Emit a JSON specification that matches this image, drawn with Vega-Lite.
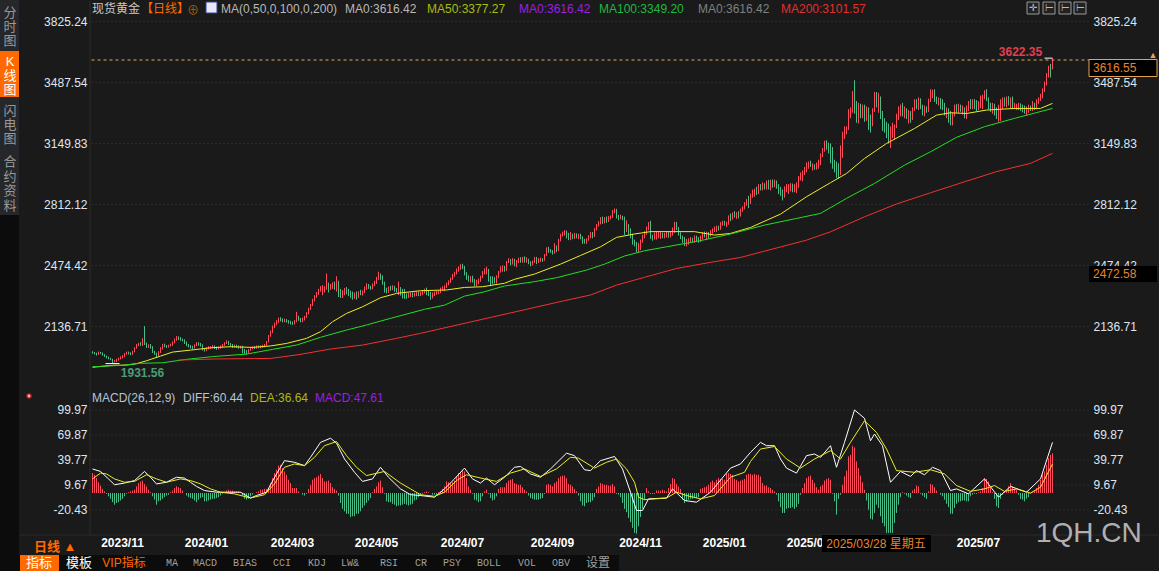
{"$schema":"https://vega.github.io/schema/vega-lite/v6.json","width":1159,"height":571,"padding":0,"autosize":{"type":"fit","contains":"padding"},"background":"#1a1a1a","config":{"view":{"stroke":null},"axis":{"disable":true},"text":{"font":"Liberation Sans, Noto Sans CJK SC","fontSize":12}},
"data":{"values":[{"z":1}]},
"datasets":{"k":[
{"i":0,"o":1998,"c":1992,"h":2000,"l":1986,"m":24},{"i":1,"o":1992,"c":1988,"h":1996,"l":1982,"m":22},{"i":2,"o":1988,"c":1984,"h":1992,"l":1976,"m":18},{"i":3,"o":1984,"c":1994,"h":1998,"l":1980,"m":13},{"i":4,"o":1994,"c":1989,"h":1996,"l":1984,"m":9},{"i":5,"o":1989,"c":1980,"h":1993,"l":1975,"m":5},{"i":6,"o":1980,"c":1972,"h":1984,"l":1968,"m":2},{"i":7,"o":1972,"c":1966,"h":1976,"l":1960,"m":-1},{"i":8,"o":1966,"c":1960,"h":1970,"l":1955,"m":-4},{"i":9,"o":1960,"c":1955,"h":1964,"l":1950,"m":-7},{"i":10,"o":1955,"c":1942,"h":1958,"l":1932,"m":-11},{"i":11,"o":1942,"c":1950,"h":1952,"l":1938,"m":-14},{"i":12,"o":1950,"c":1951,"h":1958,"l":1940,"m":-12},{"i":13,"o":1951,"c":1960,"h":1964,"l":1948,"m":-11},{"i":14,"o":1960,"c":1966,"h":1972,"l":1955,"m":-9},{"i":15,"o":1966,"c":1973,"h":1978,"l":1960,"m":-7},{"i":16,"o":1973,"c":1985,"h":1990,"l":1968,"m":-4},{"i":17,"o":1985,"c":1995,"h":1998,"l":1980,"m":-1},{"i":18,"o":1995,"c":1988,"h":1998,"l":1982,"m":1},{"i":19,"o":1988,"c":1984,"h":1994,"l":1978,"m":2},{"i":20,"o":1984,"c":1997,"h":2002,"l":1980,"m":3},{"i":21,"o":1997,"c":2018,"h":2022,"l":1994,"m":4},{"i":22,"o":2018,"c":2034,"h":2040,"l":2014,"m":8},{"i":23,"o":2034,"c":2040,"h":2046,"l":2028,"m":12},{"i":24,"o":2040,"c":2038,"h":2050,"l":2030,"m":14},{"i":25,"o":2038,"c":2062,"h":2072,"l":2030,"m":15},{"i":26,"o":2062,"c":2040,"h":2139,"l":2034,"m":11},{"i":27,"o":2040,"c":2025,"h":2048,"l":2018,"m":8},{"i":28,"o":2025,"c":2032,"h":2038,"l":2018,"m":4},{"i":29,"o":2032,"c":2021,"h":2040,"l":2014,"m":1},{"i":30,"o":2021,"c":1997,"h":2028,"l":1990,"m":-4},{"i":31,"o":1997,"c":1985,"h":2002,"l":1980,"m":-8},{"i":32,"o":1985,"c":1973,"h":1992,"l":1966,"m":-14},{"i":33,"o":1973,"c":1995,"h":2000,"l":1970,"m":-10},{"i":34,"o":1995,"c":2016,"h":2022,"l":1990,"m":-9},{"i":35,"o":2016,"c":2034,"h":2040,"l":2010,"m":-7},{"i":36,"o":2034,"c":2028,"h":2042,"l":2022,"m":-5},{"i":37,"o":2028,"c":2025,"h":2034,"l":2018,"m":-3},{"i":38,"o":2025,"c":2030,"h":2036,"l":2020,"m":-2},{"i":39,"o":2030,"c":2034,"h":2042,"l":2026,"m":1},{"i":40,"o":2034,"c":2048,"h":2054,"l":2030,"m":3},{"i":41,"o":2048,"c":2062,"h":2070,"l":2044,"m":6},{"i":42,"o":2062,"c":2077,"h":2084,"l":2058,"m":8},{"i":43,"o":2077,"c":2072,"h":2082,"l":2062,"m":7},{"i":44,"o":2072,"c":2066,"h":2078,"l":2058,"m":6},{"i":45,"o":2066,"c":2062,"h":2070,"l":2054,"m":3},{"i":46,"o":2062,"c":2048,"h":2066,"l":2040,"m":0},{"i":47,"o":2048,"c":2034,"h":2054,"l":2028,"m":-3},{"i":48,"o":2034,"c":2028,"h":2040,"l":2020,"m":-5},{"i":49,"o":2028,"c":2025,"h":2034,"l":2015,"m":-6},{"i":50,"o":2025,"c":2020,"h":2030,"l":2012,"m":-7},{"i":51,"o":2020,"c":2032,"h":2038,"l":2016,"m":-9},{"i":52,"o":2032,"c":2043,"h":2050,"l":2028,"m":-11},{"i":53,"o":2043,"c":2038,"h":2050,"l":2030,"m":-8},{"i":54,"o":2038,"c":2034,"h":2046,"l":2026,"m":-6},{"i":55,"o":2034,"c":2010,"h":2038,"l":2004,"m":-5},{"i":56,"o":2010,"c":2005,"h":2018,"l":1998,"m":-10},{"i":57,"o":2005,"c":2016,"h":2022,"l":2000,"m":-10},{"i":58,"o":2016,"c":2020,"h":2028,"l":2010,"m":-9},{"i":59,"o":2020,"c":2021,"h":2028,"l":2012,"m":-8},{"i":60,"o":2021,"c":2028,"h":2034,"l":2015,"m":-7},{"i":61,"o":2028,"c":2020,"h":2032,"l":2012,"m":-7},{"i":62,"o":2020,"c":2016,"h":2026,"l":2008,"m":-6},{"i":63,"o":2016,"c":2020,"h":2026,"l":2010,"m":-5},{"i":64,"o":2020,"c":2025,"h":2032,"l":2014,"m":-3},{"i":65,"o":2025,"c":2034,"h":2040,"l":2020,"m":-1},{"i":66,"o":2034,"c":2044,"h":2050,"l":2030,"m":1},{"i":67,"o":2044,"c":2053,"h":2060,"l":2040,"m":3},{"i":68,"o":2053,"c":2040,"h":2058,"l":2034,"m":4},{"i":69,"o":2040,"c":2034,"h":2046,"l":2026,"m":3},{"i":70,"o":2034,"c":2025,"h":2040,"l":2018,"m":3},{"i":71,"o":2025,"c":2030,"h":2036,"l":2020,"m":2},{"i":72,"o":2030,"c":2025,"h":2036,"l":2018,"m":2},{"i":73,"o":2025,"c":2022,"h":2032,"l":2014,"m":2},{"i":74,"o":2022,"c":2025,"h":2030,"l":2014,"m":1},{"i":75,"o":2025,"c":2006,"h":2030,"l":1988,"m":-3},{"i":76,"o":2006,"c":2000,"h":2012,"l":1985,"m":-7},{"i":77,"o":2000,"c":1997,"h":2006,"l":1982,"m":-8},{"i":78,"o":1997,"c":2008,"h":2012,"l":1990,"m":-7},{"i":79,"o":2008,"c":2016,"h":2022,"l":2002,"m":-4},{"i":80,"o":2016,"c":2021,"h":2028,"l":2010,"m":-2},{"i":81,"o":2021,"c":2018,"h":2028,"l":2012,"m":0},{"i":82,"o":2018,"c":2025,"h":2032,"l":2014,"m":1},{"i":83,"o":2025,"c":2022,"h":2032,"l":2016,"m":2},{"i":84,"o":2022,"c":2025,"h":2032,"l":2016,"m":4},{"i":85,"o":2025,"c":2028,"h":2036,"l":2018,"m":4},{"i":86,"o":2028,"c":2035,"h":2040,"l":2022,"m":5},{"i":87,"o":2035,"c":2053,"h":2056,"l":2030,"m":5},{"i":88,"o":2053,"c":2085,"h":2090,"l":2048,"m":6},{"i":89,"o":2085,"c":2108,"h":2114,"l":2080,"m":12},{"i":90,"o":2108,"c":2136,"h":2142,"l":2100,"m":18},{"i":91,"o":2136,"c":2150,"h":2158,"l":2128,"m":24},{"i":92,"o":2150,"c":2163,"h":2172,"l":2144,"m":28},{"i":93,"o":2163,"c":2180,"h":2186,"l":2155,"m":33},{"i":94,"o":2180,"c":2176,"h":2188,"l":2165,"m":34},{"i":95,"o":2176,"c":2169,"h":2182,"l":2160,"m":30},{"i":96,"o":2169,"c":2172,"h":2180,"l":2160,"m":26},{"i":97,"o":2172,"c":2165,"h":2178,"l":2158,"m":22},{"i":98,"o":2165,"c":2162,"h":2172,"l":2152,"m":16},{"i":99,"o":2162,"c":2158,"h":2168,"l":2148,"m":12},{"i":100,"o":2158,"c":2154,"h":2164,"l":2146,"m":6},{"i":101,"o":2154,"c":2165,"h":2172,"l":2148,"m":6},{"i":102,"o":2165,"c":2191,"h":2218,"l":2160,"m":6},{"i":103,"o":2191,"c":2178,"h":2196,"l":2168,"m":2},{"i":104,"o":2178,"c":2169,"h":2184,"l":2160,"m":0},{"i":105,"o":2169,"c":2176,"h":2186,"l":2160,"m":-2},{"i":106,"o":2176,"c":2190,"h":2196,"l":2170,"m":-3},{"i":107,"o":2190,"c":2209,"h":2216,"l":2184,"m":-1},{"i":108,"o":2209,"c":2234,"h":2240,"l":2204,"m":5},{"i":109,"o":2234,"c":2256,"h":2262,"l":2228,"m":10},{"i":110,"o":2256,"c":2283,"h":2290,"l":2250,"m":16},{"i":111,"o":2283,"c":2302,"h":2310,"l":2276,"m":18},{"i":112,"o":2302,"c":2320,"h":2328,"l":2296,"m":19},{"i":113,"o":2320,"c":2338,"h":2345,"l":2312,"m":21},{"i":114,"o":2338,"c":2348,"h":2360,"l":2330,"m":23},{"i":115,"o":2348,"c":2357,"h":2366,"l":2310,"m":18},{"i":116,"o":2340,"c":2350,"h":2360,"l":2325,"m":14},{"i":117,"o":2350,"c":2361,"h":2430,"l":2340,"m":14},{"i":118,"o":2372,"c":2345,"h":2380,"l":2325,"m":15},{"i":119,"o":2345,"c":2366,"h":2372,"l":2340,"m":12},{"i":120,"o":2352,"c":2375,"h":2382,"l":2345,"m":7},{"i":121,"o":2375,"c":2360,"h":2385,"l":2340,"m":5},{"i":122,"o":2360,"c":2385,"h":2415,"l":2330,"m":3},{"i":123,"o":2385,"c":2335,"h":2390,"l":2300,"m":-3},{"i":124,"o":2335,"c":2320,"h":2345,"l":2295,"m":-12},{"i":125,"o":2310,"c":2320,"h":2338,"l":2295,"m":-19},{"i":126,"o":2320,"c":2342,"h":2350,"l":2310,"m":-22},{"i":127,"o":2342,"c":2335,"h":2355,"l":2315,"m":-25},{"i":128,"o":2335,"c":2325,"h":2345,"l":2305,"m":-25},{"i":129,"o":2325,"c":2320,"h":2335,"l":2295,"m":-29},{"i":130,"o":2320,"c":2302,"h":2330,"l":2285,"m":-28},{"i":131,"o":2302,"c":2318,"h":2325,"l":2290,"m":-28},{"i":132,"o":2318,"c":2305,"h":2330,"l":2285,"m":-25},{"i":133,"o":2305,"c":2325,"h":2332,"l":2295,"m":-25},{"i":134,"o":2325,"c":2320,"h":2340,"l":2310,"m":-22},{"i":135,"o":2320,"c":2329,"h":2336,"l":2308,"m":-18},{"i":136,"o":2329,"c":2350,"h":2358,"l":2322,"m":-15},{"i":137,"o":2350,"c":2366,"h":2376,"l":2340,"m":-12},{"i":138,"o":2366,"c":2355,"h":2372,"l":2345,"m":-9},{"i":139,"o":2355,"c":2348,"h":2362,"l":2340,"m":-6},{"i":140,"o":2348,"c":2368,"h":2375,"l":2342,"m":1},{"i":141,"o":2368,"c":2379,"h":2390,"l":2360,"m":5},{"i":142,"o":2379,"c":2403,"h":2412,"l":2372,"m":8},{"i":143,"o":2403,"c":2421,"h":2440,"l":2395,"m":13},{"i":144,"o":2421,"c":2405,"h":2430,"l":2395,"m":15},{"i":145,"o":2405,"c":2375,"h":2420,"l":2368,"m":7},{"i":146,"o":2375,"c":2345,"h":2385,"l":2325,"m":-1},{"i":147,"o":2345,"c":2329,"h":2352,"l":2320,"m":-10},{"i":148,"o":2329,"c":2350,"h":2358,"l":2322,"m":-11},{"i":149,"o":2350,"c":2348,"h":2362,"l":2335,"m":-11},{"i":150,"o":2348,"c":2357,"h":2365,"l":2338,"m":-13},{"i":151,"o":2357,"c":2345,"h":2362,"l":2330,"m":-14},{"i":152,"o":2345,"c":2339,"h":2350,"l":2325,"m":-16},{"i":153,"o":2339,"c":2350,"h":2385,"l":2310,"m":-15},
{"i":154,"o":2350,"c":2339,"h":2355,"l":2308,"m":-15},{"i":155,"o":2339,"c":2325,"h":2345,"l":2292,"m":-14},{"i":156,"o":2325,"c":2311,"h":2345,"l":2290,"m":-13},{"i":157,"o":2311,"c":2305,"h":2320,"l":2290,"m":-14},{"i":158,"o":2305,"c":2312,"h":2322,"l":2295,"m":-15},{"i":159,"o":2312,"c":2318,"h":2326,"l":2300,"m":-14},{"i":160,"o":2318,"c":2312,"h":2326,"l":2298,"m":-13},{"i":161,"o":2312,"c":2316,"h":2325,"l":2302,"m":-9},{"i":162,"o":2316,"c":2322,"h":2330,"l":2305,"m":-8},{"i":163,"o":2322,"c":2318,"h":2330,"l":2305,"m":-5},{"i":164,"o":2318,"c":2320,"h":2330,"l":2305,"m":-3},{"i":165,"o":2320,"c":2330,"h":2338,"l":2310,"m":-1},{"i":166,"o":2330,"c":2339,"h":2346,"l":2320,"m":1},{"i":167,"o":2339,"c":2330,"h":2352,"l":2310,"m":2},{"i":168,"o":2330,"c":2320,"h":2338,"l":2305,"m":1},{"i":169,"o":2320,"c":2311,"h":2328,"l":2285,"m":0},{"i":170,"o":2311,"c":2318,"h":2325,"l":2292,"m":-2},{"i":171,"o":2318,"c":2322,"h":2330,"l":2305,"m":-2},{"i":172,"o":2322,"c":2328,"h":2335,"l":2312,"m":-3},{"i":173,"o":2322,"c":2329,"h":2336,"l":2315,"m":1},{"i":174,"o":2329,"c":2345,"h":2352,"l":2322,"m":2},{"i":175,"o":2345,"c":2350,"h":2360,"l":2335,"m":5},{"i":176,"o":2340,"c":2357,"h":2365,"l":2332,"m":8},{"i":177,"o":2357,"c":2372,"h":2380,"l":2350,"m":14},{"i":178,"o":2372,"c":2385,"h":2392,"l":2365,"m":13},{"i":179,"o":2385,"c":2400,"h":2408,"l":2378,"m":12},{"i":180,"o":2400,"c":2420,"h":2428,"l":2395,"m":13},{"i":181,"o":2420,"c":2432,"h":2440,"l":2412,"m":15},{"i":182,"o":2432,"c":2448,"h":2458,"l":2425,"m":20},{"i":183,"o":2448,"c":2458,"h":2470,"l":2440,"m":24},{"i":184,"o":2458,"c":2476,"h":2482,"l":2450,"m":25},{"i":185,"o":2476,"c":2464,"h":2484,"l":2455,"m":27},{"i":186,"o":2464,"c":2430,"h":2472,"l":2420,"m":26},{"i":187,"o":2430,"c":2412,"h":2438,"l":2395,"m":18},{"i":188,"o":2412,"c":2400,"h":2420,"l":2385,"m":8},{"i":189,"o":2390,"c":2405,"h":2415,"l":2380,"m":4},{"i":190,"o":2405,"c":2392,"h":2418,"l":2380,"m":-1},{"i":191,"o":2392,"c":2385,"h":2400,"l":2360,"m":-8},{"i":192,"o":2375,"c":2388,"h":2395,"l":2360,"m":-9},{"i":193,"o":2378,"c":2394,"h":2402,"l":2370,"m":-11},{"i":194,"o":2394,"c":2410,"h":2418,"l":2385,"m":-10},{"i":195,"o":2410,"c":2435,"h":2444,"l":2405,"m":-4},{"i":196,"o":2435,"c":2449,"h":2458,"l":2425,"m":2},{"i":197,"o":2430,"c":2449,"h":2468,"l":2425,"m":4},{"i":198,"o":2449,"c":2403,"h":2455,"l":2385,"m":-1},{"i":199,"o":2403,"c":2400,"h":2415,"l":2360,"m":-6},{"i":200,"o":2400,"c":2395,"h":2415,"l":2370,"m":-9},{"i":201,"o":2395,"c":2394,"h":2410,"l":2375,"m":-8},{"i":202,"o":2385,"c":2410,"h":2420,"l":2375,"m":-4},{"i":203,"o":2410,"c":2440,"h":2445,"l":2405,"m":5},{"i":204,"o":2440,"c":2458,"h":2470,"l":2435,"m":7},{"i":205,"o":2445,"c":2465,"h":2475,"l":2440,"m":7},{"i":206,"o":2465,"c":2460,"h":2472,"l":2440,"m":7},{"i":207,"o":2450,"c":2495,"h":2500,"l":2445,"m":12},{"i":208,"o":2495,"c":2505,"h":2515,"l":2488,"m":15},{"i":209,"o":2505,"c":2488,"h":2510,"l":2475,"m":16},{"i":210,"o":2488,"c":2505,"h":2515,"l":2480,"m":17},{"i":211,"o":2505,"c":2480,"h":2512,"l":2470,"m":12},{"i":212,"o":2480,"c":2495,"h":2505,"l":2465,"m":11},{"i":213,"o":2495,"c":2510,"h":2518,"l":2488,"m":10},{"i":214,"o":2510,"c":2498,"h":2520,"l":2490,"m":10},{"i":215,"o":2498,"c":2514,"h":2522,"l":2490,"m":7},{"i":216,"o":2514,"c":2500,"h":2525,"l":2490,"m":4},{"i":217,"o":2500,"c":2505,"h":2520,"l":2490,"m":2},{"i":218,"o":2505,"c":2490,"h":2512,"l":2482,"m":-3},{"i":219,"o":2490,"c":2484,"h":2498,"l":2470,"m":-6},{"i":220,"o":2484,"c":2495,"h":2502,"l":2475,"m":-7},{"i":221,"o":2495,"c":2515,"h":2522,"l":2488,"m":-8},{"i":222,"o":2515,"c":2495,"h":2522,"l":2482,"m":-8},{"i":223,"o":2495,"c":2505,"h":2515,"l":2488,"m":-8},{"i":224,"o":2505,"c":2510,"h":2518,"l":2495,"m":-7},{"i":225,"o":2510,"c":2505,"h":2515,"l":2495,"m":-6},{"i":226,"o":2505,"c":2532,"h":2538,"l":2500,"m":-1},{"i":227,"o":2532,"c":2569,"h":2575,"l":2528,"m":10},{"i":228,"o":2569,"c":2560,"h":2578,"l":2545,"m":11},{"i":229,"o":2560,"c":2552,"h":2566,"l":2545,"m":10},{"i":230,"o":2552,"c":2545,"h":2560,"l":2535,"m":8},{"i":231,"o":2545,"c":2578,"h":2598,"l":2540,"m":12},{"i":232,"o":2578,"c":2560,"h":2585,"l":2548,"m":14},{"i":233,"o":2560,"c":2615,"h":2622,"l":2555,"m":18},{"i":234,"o":2615,"c":2643,"h":2650,"l":2608,"m":20},{"i":235,"o":2643,"c":2655,"h":2662,"l":2635,"m":21},{"i":236,"o":2655,"c":2661,"h":2670,"l":2640,"m":21},{"i":237,"o":2661,"c":2648,"h":2668,"l":2625,"m":18},{"i":238,"o":2648,"c":2625,"h":2655,"l":2615,"m":11},{"i":239,"o":2625,"c":2643,"h":2660,"l":2615,"m":10},{"i":240,"o":2643,"c":2630,"h":2650,"l":2620,"m":8},{"i":241,"o":2630,"c":2648,"h":2655,"l":2622,"m":5},{"i":242,"o":2648,"c":2630,"h":2652,"l":2625,"m":2},{"i":243,"o":2630,"c":2644,"h":2650,"l":2620,"m":-3},{"i":244,"o":2644,"c":2630,"h":2650,"l":2620,"m":-10},{"i":245,"o":2630,"c":2615,"h":2636,"l":2595,"m":-15},{"i":246,"o":2615,"c":2605,"h":2622,"l":2595,"m":-16},{"i":247,"o":2605,"c":2618,"h":2625,"l":2595,"m":-12},{"i":248,"o":2618,"c":2635,"h":2642,"l":2612,"m":-11},{"i":249,"o":2635,"c":2652,"h":2660,"l":2625,"m":-11},{"i":250,"o":2652,"c":2640,"h":2660,"l":2625,"m":-9},{"i":251,"o":2640,"c":2675,"h":2682,"l":2632,"m":-5},{"i":252,"o":2675,"c":2698,"h":2704,"l":2668,"m":5},{"i":253,"o":2698,"c":2710,"h":2720,"l":2690,"m":8},{"i":254,"o":2710,"c":2735,"h":2742,"l":2702,"m":12},{"i":255,"o":2735,"c":2712,"h":2745,"l":2705,"m":11},{"i":256,"o":2712,"c":2735,"h":2742,"l":2708,"m":10},{"i":257,"o":2735,"c":2722,"h":2745,"l":2712,"m":10},{"i":258,"o":2722,"c":2740,"h":2748,"l":2715,"m":9},{"i":259,"o":2740,"c":2745,"h":2752,"l":2730,"m":9},{"i":260,"o":2745,"c":2775,"h":2782,"l":2738,"m":11},{"i":261,"o":2775,"c":2781,"h":2790,"l":2765,"m":8},{"i":262,"o":2781,"c":2745,"h":2788,"l":2735,"m":-1},{"i":263,"o":2745,"c":2738,"h":2755,"l":2725,"m":-2},{"i":264,"o":2738,"c":2746,"h":2755,"l":2730,"m":-5},{"i":265,"o":2746,"c":2735,"h":2750,"l":2725,"m":-12},{"i":266,"o":2735,"c":2671,"h":2745,"l":2645,"m":-19},{"i":267,"o":2671,"c":2698,"h":2725,"l":2660,"m":-23},{"i":268,"o":2698,"c":2670,"h":2704,"l":2645,"m":-30},{"i":269,"o":2670,"c":2640,"h":2680,"l":2625,"m":-35},{"i":270,"o":2640,"c":2605,"h":2650,"l":2590,"m":-42},{"i":271,"o":2605,"c":2597,"h":2618,"l":2580,"m":-48},{"i":272,"o":2597,"c":2575,"h":2605,"l":2548,"m":-49},{"i":273,"o":2575,"c":2588,"h":2600,"l":2545,"m":-40},{"i":274,"o":2588,"c":2610,"h":2618,"l":2560,"m":-29},{"i":275,"o":2610,"c":2635,"h":2645,"l":2600,"m":-19},{"i":276,"o":2635,"c":2652,"h":2665,"l":2625,"m":-8},{"i":277,"o":2652,"c":2680,"h":2690,"l":2645,"m":6},{"i":278,"o":2680,"c":2708,"h":2715,"l":2670,"m":2},{"i":279,"o":2708,"c":2634,"h":2722,"l":2622,"m":-1},{"i":280,"o":2634,"c":2625,"h":2645,"l":2612,"m":-1},{"i":281,"o":2625,"c":2648,"h":2658,"l":2618,"m":-1},{"i":282,"o":2628,"c":2638,"h":2660,"l":2618,"m":3},{"i":283,"o":2638,"c":2650,"h":2660,"l":2625,"m":3},{"i":284,"o":2630,"c":2645,"h":2662,"l":2622,"m":3},{"i":285,"o":2645,"c":2635,"h":2656,"l":2625,"m":4},{"i":286,"o":2635,"c":2643,"h":2655,"l":2625,"m":3},{"i":287,"o":2643,"c":2655,"h":2662,"l":2630,"m":2},{"i":288,"o":2655,"c":2640,"h":2664,"l":2628,"m":6},{"i":289,"o":2640,"c":2650,"h":2660,"l":2630,"m":11},{"i":290,"o":2650,"c":2665,"h":2685,"l":2640,"m":18},{"i":291,"o":2665,"c":2708,"h":2716,"l":2655,"m":17},{"i":292,"o":2708,"c":2680,"h":2716,"l":2670,"m":11},{"i":293,"o":2680,"c":2650,"h":2688,"l":2640,"m":8},{"i":294,"o":2650,"c":2634,"h":2658,"l":2620,"m":5},{"i":295,"o":2634,"c":2625,"h":2640,"l":2600,"m":-8},{"i":296,"o":2625,"c":2597,"h":2632,"l":2582,"m":-12},{"i":297,"o":2597,"c":2615,"h":2622,"l":2580,"m":-10},{"i":298,"o":2600,"c":2612,"h":2625,"l":2590,"m":-8},{"i":299,"o":2612,"c":2615,"h":2632,"l":2600,"m":-7},{"i":300,"o":2615,"c":2608,"h":2628,"l":2602,"m":-7},{"i":301,"o":2608,"c":2630,"h":2640,"l":2600,"m":-6},{"i":302,"o":2630,"c":2625,"h":2640,"l":2605,"m":-6},{"i":303,"o":2625,"c":2612,"h":2632,"l":2600,"m":-5},{"i":304,"o":2612,"c":2625,"h":2640,"l":2604,"m":5},{"i":305,"o":2625,"c":2650,"h":2660,"l":2618,"m":6},{"i":306,"o":2650,"c":2643,"h":2662,"l":2630,"m":7},{"i":307,"o":2625,"c":2650,"h":2662,"l":2615,"m":8},{"i":308,"o":2650,"c":2640,"h":2660,"l":2625,"m":10},{"i":309,"o":2640,"c":2662,"h":2670,"l":2635,"m":13},{"i":310,"o":2662,"c":2668,"h":2680,"l":2650,"m":15},{"i":311,"o":2668,"c":2680,"h":2690,"l":2660,"m":13},{"i":312,"o":2665,"c":2685,"h":2695,"l":2660,"m":16},{"i":313,"o":2685,"c":2680,"h":2695,"l":2668,"m":18},{"i":314,"o":2680,"c":2705,"h":2715,"l":2672,"m":17},{"i":315,"o":2705,"c":2712,"h":2722,"l":2695,"m":17},{"i":316,"o":2712,"c":2708,"h":2722,"l":2695,"m":16},{"i":317,"o":2695,"c":2706,"h":2716,"l":2688,"m":23},{"i":318,"o":2706,"c":2745,"h":2752,"l":2700,"m":24},{"i":319,"o":2745,"c":2735,"h":2762,"l":2720,"m":23},{"i":320,"o":2735,"c":2762,"h":2768,"l":2728,"m":22},{"i":321,"o":2762,"c":2754,"h":2775,"l":2740,"m":17},{"i":322,"o":2740,"c":2760,"h":2770,"l":2732,"m":16},{"i":323,"o":2760,"c":2754,"h":2775,"l":2735,"m":14},{"i":324,"o":2754,"c":2781,"h":2790,"l":2745,"m":15},{"i":325,"o":2781,"c":2795,"h":2802,"l":2772,"m":16},{"i":326,"o":2795,"c":2818,"h":2825,"l":2785,"m":17},{"i":327,"o":2818,"c":2835,"h":2842,"l":2805,"m":22},{"i":328,"o":2835,"c":2805,"h":2860,"l":2792,"m":23},{"i":329,"o":2825,"c":2864,"h":2872,"l":2815,"m":23},{"i":330,"o":2864,"c":2878,"h":2895,"l":2850,"m":22},{"i":331,"o":2878,"c":2892,"h":2900,"l":2855,"m":23},{"i":332,"o":2892,"c":2880,"h":2910,"l":2865,"m":22},{"i":333,"o":2880,"c":2915,"h":2925,"l":2870,"m":22},{"i":334,"o":2915,"c":2900,"h":2925,"l":2890,"m":20},{"i":335,"o":2900,"c":2920,"h":2935,"l":2890,"m":12},{"i":336,"o":2920,"c":2905,"h":2930,"l":2895,"m":9},{"i":337,"o":2905,"c":2920,"h":2945,"l":2895,"m":9},{"i":338,"o":2920,"c":2900,"h":2948,"l":2895,"m":7},{"i":339,"o":2900,"c":2930,"h":2950,"l":2890,"m":6},{"i":340,"o":2930,"c":2915,"h":2950,"l":2905,"m":4},{"i":341,"o":2915,"c":2938,"h":2950,"l":2908,"m":2},{"i":342,"o":2938,"c":2908,"h":2945,"l":2900,"m":-2},{"i":343,"o":2908,"c":2901,"h":2925,"l":2870,"m":-10},{"i":344,"o":2901,"c":2880,"h":2910,"l":2860,"m":-17},{"i":345,"o":2880,"c":2873,"h":2895,"l":2835,"m":-24},{"i":346,"o":2873,"c":2895,"h":2912,"l":2850,"m":-24},{"i":347,"o":2895,"c":2910,"h":2925,"l":2880,"m":-19},{"i":348,"o":2880,"c":2900,"h":2925,"l":2870,"m":-18},{"i":349,"o":2900,"c":2910,"h":2930,"l":2885,"m":-18},{"i":350,"o":2910,"c":2895,"h":2928,"l":2880,"m":-17},{"i":351,"o":2895,"c":2901,"h":2925,"l":2880,"m":-19},{"i":352,"o":2885,"c":2915,"h":2935,"l":2875,"m":-17},{"i":353,"o":2915,"c":2957,"h":2970,"l":2905,"m":-13},{"i":354,"o":2957,"c":2975,"h":2990,"l":2945,"m":-2},{"i":355,"o":2950,"c":2985,"h":3000,"l":2940,"m":6},{"i":356,"o":2985,"c":3003,"h":3020,"l":2975,"m":12},{"i":357,"o":3003,"c":3025,"h":3045,"l":2990,"m":18},{"i":358,"o":3025,"c":3040,"h":3050,"l":3010,"m":20},{"i":359,"o":3040,"c":3030,"h":3055,"l":3020,"m":21},{"i":360,"o":3005,"c":3025,"h":3040,"l":3000,"m":16},{"i":361,"o":3025,"c":3017,"h":3035,"l":3005,"m":12},{"i":362,"o":3017,"c":3035,"h":3045,"l":3005,"m":7},{"i":363,"o":3020,"c":3040,"h":3060,"l":3010,"m":4},{"i":364,"o":3040,"c":3085,"h":3095,"l":3030,"m":8},{"i":365,"o":3085,"c":3114,"h":3125,"l":3075,"m":10},{"i":366,"o":3114,"c":3150,"h":3165,"l":3105,"m":15},{"i":367,"o":3150,"c":3140,"h":3168,"l":3115,"m":17},{"i":368,"o":3140,"c":3123,"h":3155,"l":3095,"m":18},{"i":369,"o":3123,"c":3105,"h":3150,"l":3040,"m":16},{"i":370,"o":3105,"c":3040,"h":3130,"l":3010,"m":-1},{"i":371,"o":3040,"c":3020,"h":3060,"l":2990,"m":-10},{"i":372,"o":3020,"c":3003,"h":3050,"l":2960,"m":-26},{"i":373,"o":3003,"c":2985,"h":3040,"l":2955,"m":-7},{"i":374,"o":2985,"c":3132,"h":3140,"l":2975,"m":-2},{"i":375,"o":3080,"c":3200,"h":3215,"l":3070,"m":10},{"i":376,"o":3185,"c":3224,"h":3245,"l":3175,"m":20},{"i":377,"o":3224,"c":3233,"h":3245,"l":3200,"m":27},{"i":378,"o":3233,"c":3300,"h":3340,"l":3225,"m":44},{"i":379,"o":3300,"c":3335,"h":3350,"l":3290,"m":46},{"i":380,"o":3335,"c":3385,"h":3440,"l":3320,"m":57},{"i":381,"o":3446,"c":3325,"h":3500,"l":3315,"m":55},{"i":382,"o":3353,"c":3310,"h":3385,"l":3265,"m":38},{"i":383,"o":3310,"c":3360,"h":3375,"l":3260,"m":30},{"i":384,"o":3360,"c":3326,"h":3370,"l":3290,"m":21},{"i":385,"o":3300,"c":3355,"h":3365,"l":3290,"m":13},{"i":386,"o":3355,"c":3316,"h":3365,"l":3270,"m":4},{"i":387,"o":3316,"c":3345,"h":3355,"l":3275,"m":-9},{"i":388,"o":3345,"c":3290,"h":3350,"l":3225,"m":-20},{"i":389,"o":3290,"c":3252,"h":3310,"l":3210,"m":-31},{"i":390,"o":3252,"c":3330,"h":3345,"l":3245,"m":-32},{"i":391,"o":3330,"c":3427,"h":3435,"l":3325,"m":-24},{"i":392,"o":3427,"c":3365,"h":3435,"l":3350,"m":-14},{"i":393,"o":3365,"c":3400,"h":3430,"l":3320,"m":-18},{"i":394,"o":3400,"c":3316,"h":3410,"l":3285,"m":-28},{"i":395,"o":3316,"c":3280,"h":3330,"l":3220,"m":-36},{"i":396,"o":3280,"c":3261,"h":3290,"l":3210,"m":-40},{"i":397,"o":3261,"c":3224,"h":3270,"l":3180,"m":-48},{"i":398,"o":3224,"c":3190,"h":3260,"l":3150,"m":-48},{"i":399,"o":3190,"c":3206,"h":3245,"l":3125,"m":-48},{"i":400,"o":3206,"c":3250,"h":3265,"l":3180,"m":-48},{"i":401,"o":3210,"c":3243,"h":3255,"l":3170,"m":-36},{"i":402,"o":3243,"c":3307,"h":3315,"l":3235,"m":-24},{"i":403,"o":3307,"c":3330,"h":3355,"l":3280,"m":-14},{"i":404,"o":3330,"c":3344,"h":3365,"l":3300,"m":-5},{"i":405,"o":3344,"c":3320,"h":3375,"l":3300,"m":1},{"i":406,"o":3320,"c":3335,"h":3355,"l":3290,"m":-1},{"i":407,"o":3335,"c":3305,"h":3345,"l":3285,"m":-3},{"i":408,"o":3305,"c":3316,"h":3335,"l":3260,"m":-5},{"i":409,"o":3316,"c":3290,"h":3330,"l":3265,"m":-6},{"i":410,"o":3290,"c":3340,"h":3350,"l":3280,"m":3},{"i":411,"o":3340,"c":3381,"h":3395,"l":3330,"m":5},{"i":412,"o":3381,"c":3350,"h":3395,"l":3340,"m":9},{"i":413,"o":3350,"c":3390,"h":3405,"l":3335,"m":8},{"i":414,"o":3390,"c":3350,"h":3400,"l":3340,"m":-1},{"i":415,"o":3350,"c":3326,"h":3365,"l":3305,"m":-3},{"i":416,"o":3326,"c":3345,"h":3360,"l":3300,"m":-5},{"i":417,"o":3345,"c":3330,"h":3355,"l":3320,"m":-7},{"i":418,"o":3330,"c":3390,"h":3398,"l":3325,"m":2},{"i":419,"o":3390,"c":3420,"h":3450,"l":3380,"m":11},{"i":420,"o":3420,"c":3436,"h":3448,"l":3400,"m":10},{"i":421,"o":3436,"c":3395,"h":3450,"l":3380,"m":7},{"i":422,"o":3395,"c":3381,"h":3410,"l":3368,"m":3},{"i":423,"o":3381,"c":3395,"h":3405,"l":3360,"m":0},{"i":424,"o":3395,"c":3362,"h":3402,"l":3340,"m":-2},{"i":425,"o":3362,"c":3350,"h":3395,"l":3335,"m":-4},{"i":426,"o":3350,"c":3316,"h":3375,"l":3305,"m":-8},{"i":427,"o":3316,"c":3330,"h":3350,"l":3290,"m":-13},{"i":428,"o":3330,"c":3320,"h":3345,"l":3265,"m":-17},{"i":429,"o":3320,"c":3290,"h":3330,"l":3250,"m":-25},{"i":430,"o":3290,"c":3307,"h":3320,"l":3250,"m":-25},{"i":431,"o":3307,"c":3344,"h":3365,"l":3300,"m":-18},{"i":432,"o":3344,"c":3330,"h":3368,"l":3320,"m":-13},{"i":433,"o":3330,"c":3355,"h":3370,"l":3320,"m":-11},{"i":434,"o":3355,"c":3335,"h":3365,"l":3325,"m":-10},{"i":435,"o":3335,"c":3340,"h":3360,"l":3310,"m":-9},{"i":436,"o":3340,"c":3316,"h":3350,"l":3290,"m":-9},{"i":437,"o":3316,"c":3340,"h":3360,"l":3285,"m":-10},{"i":438,"o":3340,"c":3375,"h":3385,"l":3330,"m":-10},{"i":439,"o":3375,"c":3353,"h":3395,"l":3340,"m":-4},{"i":440,"o":3353,"c":3385,"h":3395,"l":3340,"m":-2},{"i":441,"o":3385,"c":3362,"h":3395,"l":3340,"m":-1},{"i":442,"o":3362,"c":3345,"h":3390,"l":3330,"m":-1},{"i":443,"o":3345,"c":3360,"h":3385,"l":3335,"m":1},{"i":444,"o":3360,"c":3400,"h":3415,"l":3345,"m":2},{"i":445,"o":3353,"c":3410,"h":3420,"l":3340,"m":6},{"i":446,"o":3410,"c":3435,"h":3445,"l":3395,"m":18},{"i":447,"o":3427,"c":3395,"h":3450,"l":3385,"m":17},{"i":448,"o":3395,"c":3360,"h":3405,"l":3340,"m":14},{"i":449,"o":3360,"c":3335,"h":3375,"l":3325,"m":7},{"i":450,"o":3335,"c":3353,"h":3375,"l":3315,"m":1},{"i":451,"o":3353,"c":3320,"h":3370,"l":3305,"m":-7},{"i":452,"o":3335,"c":3300,"h":3350,"l":3285,"m":-16},{"i":453,"o":3316,"c":3340,"h":3365,"l":3270,"m":-18},{"i":454,"o":3340,"c":3380,"h":3395,"l":3275,"m":-7},{"i":455,"o":3362,"c":3395,"h":3405,"l":3340,"m":-2},{"i":456,"o":3395,"c":3370,"h":3405,"l":3355,"m":2},{"i":457,"o":3370,"c":3400,"h":3410,"l":3350,"m":4},{"i":458,"o":3400,"c":3375,"h":3412,"l":3360,"m":8},{"i":459,"o":3375,"c":3395,"h":3405,"l":3345,"m":12},{"i":460,"o":3390,"c":3350,"h":3410,"l":3340,"m":8},{"i":461,"o":3350,"c":3360,"h":3375,"l":3340,"m":5},{"i":462,"o":3345,"c":3353,"h":3370,"l":3335,"m":4},{"i":463,"o":3353,"c":3360,"h":3375,"l":3335,"m":-2},{"i":464,"o":3360,"c":3344,"h":3372,"l":3330,"m":-7},{"i":465,"o":3350,"c":3338,"h":3365,"l":3322,"m":-8},{"i":466,"o":3338,"c":3325,"h":3360,"l":3315,"m":-10},{"i":467,"o":3315,"c":3335,"h":3355,"l":3305,"m":-7},{"i":468,"o":3335,"c":3345,"h":3365,"l":3320,"m":-5},{"i":469,"o":3345,"c":3338,"h":3360,"l":3330,"m":-1},{"i":470,"o":3338,"c":3362,"h":3385,"l":3330,"m":1},{"i":471,"o":3362,"c":3345,"h":3375,"l":3335,"m":3},{"i":472,"o":3345,"c":3381,"h":3395,"l":3340,"m":6},{"i":473,"o":3381,"c":3395,"h":3405,"l":3370,"m":10},{"i":474,"o":3395,"c":3410,"h":3425,"l":3385,"m":16},{"i":475,"o":3410,"c":3445,"h":3455,"l":3400,"m":22},{"i":476,"o":3445,"c":3480,"h":3492,"l":3435,"m":26},{"i":477,"o":3480,"c":3528,"h":3540,"l":3472,"m":34},{"i":478,"o":3528,"c":3575,"h":3580,"l":3515,"m":42},{"i":479,"o":3575,"c":3555,"h":3590,"l":3515,"m":46},{"i":480,"o":3565,"c":3616,"h":3622,"l":3560,"m":48}],
"ma":[
{"s":"a","i":0,"v":1911},{"s":"a","i":10,"v":1922},{"s":"a","i":17,"v":1923},{"s":"a","i":22,"v":1931},{"s":"a","i":27,"v":1947},{"s":"a","i":34,"v":1973},{"s":"a","i":40,"v":1995},{"s":"a","i":49,"v":2006},{"s":"a","i":59,"v":2019},{"s":"a","i":69,"v":2025},{"s":"a","i":80,"v":2021},{"s":"a","i":89,"v":2029},{"s":"a","i":97,"v":2043},{"s":"a","i":107,"v":2071},{"s":"a","i":114,"v":2108},{"s":"a","i":120,"v":2163},{"s":"a","i":127,"v":2209},{"s":"a","i":135,"v":2246},{"s":"a","i":144,"v":2296},{"s":"a","i":152,"v":2320},{"s":"a","i":164,"v":2335},{"s":"a","i":177,"v":2339},{"s":"a","i":186,"v":2353},{"s":"a","i":195,"v":2357},{"s":"a","i":206,"v":2376},{"s":"a","i":211,"v":2398},{"s":"a","i":221,"v":2427},{"s":"a","i":234,"v":2482},{"s":"a","i":244,"v":2530},{"s":"a","i":254,"v":2578},{"s":"a","i":262,"v":2630},{"s":"a","i":271,"v":2649},{"s":"a","i":279,"v":2662},{"s":"a","i":301,"v":2662},{"s":"a","i":311,"v":2643},{"s":"a","i":319,"v":2652},{"s":"a","i":329,"v":2685},{"s":"a","i":344,"v":2759},{"s":"a","i":357,"v":2855},{"s":"a","i":369,"v":2933},{"s":"a","i":377,"v":2984},{"s":"a","i":386,"v":3067},{"s":"a","i":397,"v":3150},{"s":"a","i":411,"v":3233},{"s":"a","i":422,"v":3307},{"s":"a","i":429,"v":3320},{"s":"a","i":437,"v":3316},{"s":"a","i":447,"v":3335},{"s":"a","i":461,"v":3344},{"s":"a","i":474,"v":3344},{"s":"a","i":480,"v":3372},
{"s":"b","i":0,"v":1914},{"s":"b","i":15,"v":1922},{"s":"b","i":24,"v":1933},{"s":"b","i":35,"v":1936},{"s":"b","i":47,"v":1955},{"s":"b","i":60,"v":1970},{"s":"b","i":77,"v":1984},{"s":"b","i":90,"v":2010},{"s":"b","i":102,"v":2034},{"s":"b","i":114,"v":2077},{"s":"b","i":127,"v":2117},{"s":"b","i":137,"v":2145},{"s":"b","i":149,"v":2182},{"s":"b","i":166,"v":2232},{"s":"b","i":176,"v":2255},{"s":"b","i":186,"v":2305},{"s":"b","i":196,"v":2329},{"s":"b","i":206,"v":2361},{"s":"b","i":221,"v":2385},{"s":"b","i":232,"v":2407},{"s":"b","i":247,"v":2449},{"s":"b","i":256,"v":2482},{"s":"b","i":266,"v":2527},{"s":"b","i":276,"v":2556},{"s":"b","i":287,"v":2578},{"s":"b","i":304,"v":2612},{"s":"b","i":319,"v":2649},{"s":"b","i":336,"v":2698},{"s":"b","i":352,"v":2735},{"s":"b","i":364,"v":2763},{"s":"b","i":377,"v":2846},{"s":"b","i":391,"v":2929},{"s":"b","i":406,"v":3030},{"s":"b","i":419,"v":3104},{"s":"b","i":432,"v":3184},{"s":"b","i":446,"v":3243},{"s":"b","i":461,"v":3289},{"s":"b","i":480,"v":3344},
{"s":"c","i":43,"v":1951},{"s":"c","i":61,"v":1957},{"s":"c","i":89,"v":1960},{"s":"c","i":102,"v":1979},{"s":"c","i":119,"v":2012},{"s":"c","i":135,"v":2034},{"s":"c","i":152,"v":2071},{"s":"c","i":164,"v":2099},{"s":"c","i":217,"v":2232},{"s":"c","i":236,"v":2280},{"s":"c","i":249,"v":2311},{"s":"c","i":262,"v":2366},{"s":"c","i":276,"v":2409},{"s":"c","i":292,"v":2458},{"s":"c","i":309,"v":2492},{"s":"c","i":324,"v":2519},{"s":"c","i":357,"v":2615},{"s":"c","i":369,"v":2661},{"s":"c","i":386,"v":2744},{"s":"c","i":402,"v":2815},{"s":"c","i":419,"v":2877},{"s":"c","i":436,"v":2938},{"s":"c","i":452,"v":2994},{"s":"c","i":469,"v":3040},{"s":"c","i":480,"v":3095}],
"macd":[
{"s":"f","i":0,"v":29},{"s":"f","i":4,"v":26},{"s":"f","i":8,"v":17},{"s":"f","i":11,"v":10},{"s":"f","i":16,"v":12},{"s":"f","i":21,"v":15},{"s":"f","i":26,"v":26},{"s":"f","i":29,"v":19},{"s":"f","i":32,"v":11},{"s":"f","i":37,"v":13},{"s":"f","i":42,"v":19},{"s":"f","i":46,"v":18},{"s":"f","i":49,"v":13},{"s":"f","i":52,"v":8},{"s":"f","i":56,"v":3},{"s":"f","i":62,"v":1},{"s":"f","i":69,"v":1},{"s":"f","i":74,"v":1},{"s":"f","i":79,"v":-6},{"s":"f","i":82,"v":-3},{"s":"f","i":87,"v":1},{"s":"f","i":92,"v":23},{"s":"f","i":96,"v":39},{"s":"f","i":101,"v":37},{"s":"f","i":106,"v":33},{"s":"f","i":109,"v":43},{"s":"f","i":114,"v":61},{"s":"f","i":119,"v":66},{"s":"f","i":122,"v":60},{"s":"f","i":126,"v":41},{"s":"f","i":131,"v":25},{"s":"f","i":135,"v":14},{"s":"f","i":140,"v":17},{"s":"f","i":144,"v":31},{"s":"f","i":148,"v":19},{"s":"f","i":154,"v":5},{"s":"f","i":159,"v":-2},{"s":"f","i":164,"v":-3},{"s":"f","i":171,"v":-5},{"s":"f","i":176,"v":5},{"s":"f","i":181,"v":17},{"s":"f","i":186,"v":30},{"s":"f","i":190,"v":17},{"s":"f","i":194,"v":12},{"s":"f","i":197,"v":18},{"s":"f","i":201,"v":10},{"s":"f","i":206,"v":19},{"s":"f","i":211,"v":31},{"s":"f","i":214,"v":32},{"s":"f","i":219,"v":23},{"s":"f","i":224,"v":19},{"s":"f","i":229,"v":29},{"s":"f","i":237,"v":48},{"s":"f","i":241,"v":45},{"s":"f","i":246,"v":28},{"s":"f","i":249,"v":27},{"s":"f","i":254,"v":39},{"s":"f","i":261,"v":44},{"s":"f","i":265,"v":29},{"s":"f","i":269,"v":1},{"s":"f","i":272,"v":-21},{"s":"f","i":275,"v":-21},{"s":"f","i":278,"v":-7},{"s":"f","i":287,"v":-6},{"s":"f","i":290,"v":5},{"s":"f","i":296,"v":-9},{"s":"f","i":302,"v":-11},{"s":"f","i":309,"v":1},{"s":"f","i":319,"v":30},{"s":"f","i":324,"v":35},{"s":"f","i":329,"v":49},{"s":"f","i":334,"v":61},{"s":"f","i":337,"v":57},{"s":"f","i":341,"v":57},{"s":"f","i":344,"v":41},{"s":"f","i":347,"v":30},{"s":"f","i":352,"v":24},{"s":"f","i":357,"v":45},{"s":"f","i":361,"v":47},{"s":"f","i":364,"v":43},{"s":"f","i":369,"v":57},{"s":"f","i":372,"v":31},{"s":"f","i":376,"v":61},{"s":"f","i":381,"v":100},{"s":"f","i":386,"v":90},{"s":"f","i":389,"v":63},{"s":"f","i":391,"v":71},{"s":"f","i":395,"v":57},{"s":"f","i":399,"v":13},{"s":"f","i":404,"v":26},{"s":"f","i":409,"v":20},{"s":"f","i":412,"v":27},{"s":"f","i":416,"v":22},{"s":"f","i":420,"v":31},{"s":"f","i":424,"v":27},{"s":"f","i":429,"v":3},{"s":"f","i":432,"v":5},{"s":"f","i":438,"v":-1},{"s":"f","i":446,"v":17},{"s":"f","i":453,"v":-5},{"s":"f","i":459,"v":8},{"s":"f","i":467,"v":1},{"s":"f","i":474,"v":17},{"s":"f","i":480,"v":61},
{"s":"e","i":0,"v":17},{"s":"e","i":4,"v":24},{"s":"e","i":7,"v":23},{"s":"e","i":11,"v":17},{"s":"e","i":16,"v":13},{"s":"e","i":21,"v":14},{"s":"e","i":27,"v":22},{"s":"e","i":32,"v":17},{"s":"e","i":37,"v":13},{"s":"e","i":44,"v":17},{"s":"e","i":49,"v":15},{"s":"e","i":54,"v":11},{"s":"e","i":59,"v":5},{"s":"e","i":64,"v":1},{"s":"e","i":71,"v":-1},{"s":"e","i":79,"v":-6},{"s":"e","i":86,"v":-2},{"s":"e","i":91,"v":11},{"s":"e","i":96,"v":31},{"s":"e","i":101,"v":35},{"s":"e","i":106,"v":33},{"s":"e","i":111,"v":43},{"s":"e","i":116,"v":57},{"s":"e","i":122,"v":62},{"s":"e","i":127,"v":45},{"s":"e","i":132,"v":31},{"s":"e","i":137,"v":21},{"s":"e","i":146,"v":26},{"s":"e","i":154,"v":12},{"s":"e","i":159,"v":5},{"s":"e","i":164,"v":-2},{"s":"e","i":171,"v":-4},{"s":"e","i":176,"v":1},{"s":"e","i":182,"v":15},{"s":"e","i":187,"v":22},{"s":"e","i":196,"v":17},{"s":"e","i":202,"v":14},{"s":"e","i":209,"v":24},{"s":"e","i":216,"v":29},{"s":"e","i":224,"v":20},{"s":"e","i":232,"v":29},{"s":"e","i":239,"v":43},{"s":"e","i":243,"v":42},{"s":"e","i":251,"v":30},{"s":"e","i":257,"v":37},{"s":"e","i":262,"v":41},{"s":"e","i":267,"v":29},{"s":"e","i":271,"v":13},{"s":"e","i":273,"v":-5},{"s":"e","i":276,"v":-8},{"s":"e","i":287,"v":-6},{"s":"e","i":292,"v":1},{"s":"e","i":297,"v":-3},{"s":"e","i":304,"v":-7},{"s":"e","i":311,"v":-3},{"s":"e","i":319,"v":19},{"s":"e","i":326,"v":25},{"s":"e","i":329,"v":38},{"s":"e","i":334,"v":53},{"s":"e","i":341,"v":56},{"s":"e","i":347,"v":41},{"s":"e","i":354,"v":30},{"s":"e","i":361,"v":41},{"s":"e","i":369,"v":51},{"s":"e","i":374,"v":41},{"s":"e","i":379,"v":61},{"s":"e","i":386,"v":87},{"s":"e","i":392,"v":73},{"s":"e","i":397,"v":53},{"s":"e","i":402,"v":27},{"s":"e","i":411,"v":25},{"s":"e","i":419,"v":28},{"s":"e","i":426,"v":23},{"s":"e","i":432,"v":9},{"s":"e","i":439,"v":2},{"s":"e","i":446,"v":5},{"s":"e","i":451,"v":9},{"s":"e","i":456,"v":2},{"s":"e","i":462,"v":5},{"s":"e","i":469,"v":0},{"s":"e","i":474,"v":7},{"s":"e","i":480,"v":35}],
"pt":[{"p":3825.24,"t":"3825.24"},{"p":3487.54,"t":"3487.54"},{"p":3149.83,"t":"3149.83"},{"p":2812.12,"t":"2812.12"},{"p":2474.42,"t":"2474.42"},{"p":2136.71,"t":"2136.71"}],
"mt":[{"p":99.97,"t":"99.97"},{"p":69.87,"t":"69.87"},{"p":39.77,"t":"39.77"},{"p":9.67,"t":"9.67"},{"p":-20.43,"t":"-20.43"}],
"dt":[{"i":15,"t":"2023/11"},{"i":57,"t":"2024/01"},{"i":100,"t":"2024/03"},{"i":142,"t":"2024/05"},{"i":185,"t":"2024/07"},{"i":230,"t":"2024/09"},{"i":274,"t":"2024/11"},{"i":316,"t":"2025/01"},{"i":358,"t":"2025/03"},{"i":443,"t":"2025/07"}]},
"resolve":{"scale":{"x":"independent","y":"independent"}},
"layer":[
{"layer":[
{"data":{"name":"pt"},"mark":{"type":"rule","color":"#3a3a3a","strokeDash":[1,3]},"encoding":{"x":{"datum":-0.5,"type":"quantitative","scale":{"domain":[-46.25,533.25],"nice":false,"zero":false}},"x2":{"datum":498},"y":{"field":"p","type":"quantitative","scale":{"domain":[783.2,3944.3],"nice":false,"zero":false}}}},
{"data":{"name":"pt"},"mark":{"type":"text","align":"right","color":"#dfe6f0"},"encoding":{"x":{"datum":-2.5,"type":"quantitative"},"y":{"field":"p","type":"quantitative"},"text":{"field":"t"}}},
{"data":{"name":"pt"},"mark":{"type":"text","align":"left","color":"#dfe6f0"},"encoding":{"x":{"datum":500.5,"type":"quantitative"},"y":{"field":"p","type":"quantitative"},"text":{"field":"t"}}},
{"mark":{"type":"rule","color":"#e8a85a","strokeDash":[3,3]},"encoding":{"x":{"datum":-0.5,"type":"quantitative"},"x2":{"datum":530},"y":{"datum":3612,"type":"quantitative"}}},
{"data":{"name":"k"},"mark":{"type":"rule","strokeWidth":1},"encoding":{"x":{"field":"i","type":"quantitative"},"y":{"field":"l","type":"quantitative"},"y2":{"field":"h"},"color":{"condition":{"test":"datum.c>=datum.o","value":"#ff4a5c"},"value":"#48bd8a"}}},
{"data":{"name":"ma"},"mark":{"type":"line","strokeWidth":1,"interpolate":"linear"},"encoding":{"x":{"field":"i","type":"quantitative"},"y":{"field":"v","type":"quantitative"},"color":{"field":"s","type":"nominal","legend":null,"scale":{"domain":["a","b","c","f","e"],"range":["#eeee22","#22dd22","#f43030","#ffffff","#eeee22"]}}}},
{"mark":{"type":"rule","color":"#ffffff"},"encoding":{"x":{"datum":6.5,"type":"quantitative"},"x2":{"datum":13.5},"y":{"datum":1931.56,"type":"quantitative"}}},
{"mark":{"type":"rule","color":"#ffffff"},"encoding":{"x":{"datum":476,"type":"quantitative"},"x2":{"datum":480},"y":{"datum":3622.35,"type":"quantitative"}}},
{"mark":{"type":"text","text":"1931.56","color":"#4d9c78","fontWeight":"bold"},"encoding":{"x":{"datum":25,"type":"quantitative"},"y":{"datum":1880,"type":"quantitative"}}},
{"mark":{"type":"text","text":"3622.35","color":"#e0404f","fontWeight":"bold"},"encoding":{"x":{"datum":464,"type":"quantitative"},"y":{"datum":3655,"type":"quantitative"}}}
]},
{"layer":[
{"data":{"name":"mt"},"mark":{"type":"rule","color":"#3a3a3a","strokeDash":[1,3]},"encoding":{"x":{"datum":-0.5,"type":"quantitative","scale":{"domain":[-46.25,533.25],"nice":false,"zero":false}},"x2":{"datum":498},"y":{"field":"p","type":"quantitative","scale":{"domain":[-93.87,593.6],"nice":false,"zero":false}}}},
{"data":{"name":"mt"},"mark":{"type":"text","align":"right","color":"#dfe6f0"},"encoding":{"x":{"datum":-2.5,"type":"quantitative"},"y":{"field":"p","type":"quantitative"},"text":{"field":"t"}}},
{"data":{"name":"mt"},"mark":{"type":"text","align":"left","color":"#dfe6f0"},"encoding":{"x":{"datum":500.5,"type":"quantitative"},"y":{"field":"p","type":"quantitative"},"text":{"field":"t"}}},
{"data":{"name":"k"},"mark":{"type":"rule","strokeWidth":1},"encoding":{"x":{"field":"i","type":"quantitative"},"y":{"field":"m","type":"quantitative"},"y2":{"datum":0},"color":{"condition":{"test":"datum.m>=0","value":"#ff4a5c"},"value":"#48bd8a"}}},
{"data":{"name":"macd"},"mark":{"type":"line","strokeWidth":1},"encoding":{"x":{"field":"i","type":"quantitative"},"y":{"field":"v","type":"quantitative"},"color":{"field":"s","type":"nominal","legend":null,"scale":{"domain":["a","b","c","f","e"],"range":["#eeee22","#22dd22","#f43030","#ffffff","#eeee22"]}}}},
{"data":{"name":"dt"},"mark":{"type":"text","color":"#ffffff","fontWeight":"bold"},"encoding":{"x":{"field":"i","type":"quantitative"},"y":{"datum":-60,"type":"quantitative"},"text":{"field":"t"}}}
]},
{"layer":[
{"mark":{"type":"rect","color":"#26272b"},"encoding":{"x":{"datum":0,"type":"quantitative","scale":{"domain":[0,1159],"nice":false,"zero":false}},"x2":{"datum":19},"y":{"datum":0,"type":"quantitative","scale":{"domain":[571,0],"nice":false,"zero":false}},"y2":{"datum":215}}},
{"mark":{"type":"rect","color":"#0c0c0c"},"encoding":{"x":{"datum":0,"type":"quantitative"},"x2":{"datum":19},"y":{"datum":215,"type":"quantitative"},"y2":{"datum":571}}},
{"mark":{"type":"rect","color":"#ff6a00"},"encoding":{"x":{"datum":0,"type":"quantitative"},"x2":{"datum":19},"y":{"datum":51,"type":"quantitative"},"y2":{"datum":97}}},
{"mark":{"type":"rect","color":"#0c0c0c"},"encoding":{"x":{"datum":0,"type":"quantitative"},"x2":{"datum":619},"y":{"datum":555,"type":"quantitative"},"y2":{"datum":571}}},
{"mark":{"type":"rect","color":"#ff6a00"},"encoding":{"x":{"datum":20,"type":"quantitative"},"x2":{"datum":59},"y":{"datum":555,"type":"quantitative"},"y2":{"datum":571}}},
{"mark":{"type":"rule","color":"#2a2a2a"},"encoding":{"x":{"datum":20,"type":"quantitative"},"x2":{"datum":1158},"y":{"datum":535,"type":"quantitative"}}},
{"mark":{"type":"rule","color":"#2a2a2a"},"encoding":{"x":{"datum":90,"type":"quantitative"},"y":{"datum":1,"type":"quantitative"},"y2":{"datum":535}}},
{"mark":{"type":"text","text":"分\n时\n图","lineBreak":"\n","lineHeight":14,"fontSize":13,"baseline":"top","color":"#999999"},"encoding":{"x":{"datum":10,"type":"quantitative"},"y":{"datum":7,"type":"quantitative"}}},
{"mark":{"type":"text","text":"K\n线\n图","lineBreak":"\n","lineHeight":14,"fontSize":13,"baseline":"top","color":"#ffffff"},"encoding":{"x":{"datum":10,"type":"quantitative"},"y":{"datum":56,"type":"quantitative"}}},
{"mark":{"type":"text","text":"闪\n电\n图","lineBreak":"\n","lineHeight":14,"fontSize":13,"baseline":"top","color":"#999999"},"encoding":{"x":{"datum":10,"type":"quantitative"},"y":{"datum":105,"type":"quantitative"}}},
{"mark":{"type":"text","text":"合\n约\n资\n料","lineBreak":"\n","lineHeight":14.5,"fontSize":13,"baseline":"top","color":"#999999"},"encoding":{"x":{"datum":10,"type":"quantitative"},"y":{"datum":156,"type":"quantitative"}}},
{"mark":{"type":"text","text":"现货黄金","align":"left","color":"#c8c8c8"},"encoding":{"x":{"datum":92,"type":"quantitative"},"y":{"datum":9,"type":"quantitative"}}},
{"mark":{"type":"text","text":"【日线】","align":"left","color":"#ff6a00"},"encoding":{"x":{"datum":141,"type":"quantitative"},"y":{"datum":9,"type":"quantitative"}}},
{"mark":{"type":"text","text":"⊕","color":"#b85a10"},"encoding":{"x":{"datum":193,"type":"quantitative"},"y":{"datum":11,"type":"quantitative"}}},
{"mark":{"type":"rect","color":"#e8e8f8","stroke":"#3040a0"},"encoding":{"x":{"datum":206,"type":"quantitative"},"x2":{"datum":217},"y":{"datum":2,"type":"quantitative"},"y2":{"datum":13}}},
{"mark":{"type":"text","text":"MA(0,50,0,100,0,200)","align":"left","color":"#b8b8b8"},"encoding":{"x":{"datum":221,"type":"quantitative"},"y":{"datum":9,"type":"quantitative"}}},
{"mark":{"type":"text","text":"MA0:3616.42","align":"left","color":"#b8b8b8"},"encoding":{"x":{"datum":345,"type":"quantitative"},"y":{"datum":9,"type":"quantitative"}}},
{"mark":{"type":"text","text":"MA50:3377.27","align":"left","color":"#a8bc10"},"encoding":{"x":{"datum":427,"type":"quantitative"},"y":{"datum":9,"type":"quantitative"}}},
{"mark":{"type":"text","text":"MA0:3616.42","align":"left","color":"#9a20e0"},"encoding":{"x":{"datum":519,"type":"quantitative"},"y":{"datum":9,"type":"quantitative"}}},
{"mark":{"type":"text","text":"MA100:3349.20","align":"left","color":"#20b840"},"encoding":{"x":{"datum":599,"type":"quantitative"},"y":{"datum":9,"type":"quantitative"}}},
{"mark":{"type":"text","text":"MA0:3616.42","align":"left","color":"#808080"},"encoding":{"x":{"datum":698,"type":"quantitative"},"y":{"datum":9,"type":"quantitative"}}},
{"mark":{"type":"text","text":"MA200:3101.57","align":"left","color":"#e03030"},"encoding":{"x":{"datum":781,"type":"quantitative"},"y":{"datum":9,"type":"quantitative"}}},
{"mark":{"type":"text","text":"MACD(26,12,9)","align":"left","color":"#b8c4d8"},"encoding":{"x":{"datum":92,"type":"quantitative"},"y":{"datum":398,"type":"quantitative"}}},
{"mark":{"type":"text","text":"DIFF:60.44","align":"left","color":"#b8c4d8"},"encoding":{"x":{"datum":183,"type":"quantitative"},"y":{"datum":398,"type":"quantitative"}}},
{"mark":{"type":"text","text":"DEA:36.64","align":"left","color":"#a8bc10"},"encoding":{"x":{"datum":250,"type":"quantitative"},"y":{"datum":398,"type":"quantitative"}}},
{"mark":{"type":"text","text":"MACD:47.61","align":"left","color":"#9a20e0"},"encoding":{"x":{"datum":315,"type":"quantitative"},"y":{"datum":398,"type":"quantitative"}}},
{"mark":{"type":"point","filled":true,"color":"#ff2020","size":30},"encoding":{"x":{"datum":29,"type":"quantitative"},"y":{"datum":396,"type":"quantitative"}}},
{"mark":{"type":"point","filled":true,"color":"#ffffff","size":8},"encoding":{"x":{"datum":29,"type":"quantitative"},"y":{"datum":396,"type":"quantitative"}}},
{"mark":{"type":"text","text":"日线 ▲","align":"left","color":"#ff6a00","fontSize":13,"fontWeight":"bold"},"encoding":{"x":{"datum":34,"type":"quantitative"},"y":{"datum":547,"type":"quantitative"}}},
{"mark":{"type":"text","text":"指标","color":"#ffffff","fontSize":13},"encoding":{"x":{"datum":39,"type":"quantitative"},"y":{"datum":563,"type":"quantitative"}}},
{"mark":{"type":"text","text":"模板","color":"#ffffff","fontSize":13},"encoding":{"x":{"datum":79,"type":"quantitative"},"y":{"datum":563,"type":"quantitative"}}},
{"mark":{"type":"text","text":"VIP指标","color":"#ff6a00","fontSize":12},"encoding":{"x":{"datum":124,"type":"quantitative"},"y":{"datum":563,"type":"quantitative"}}},
{"mark":{"type":"text","text":"MA","color":"#a0a0a0","fontSize":10,"font":"Liberation Mono"},"encoding":{"x":{"datum":172,"type":"quantitative"},"y":{"datum":563,"type":"quantitative"}}},
{"mark":{"type":"text","text":"MACD","color":"#a0a0a0","fontSize":10,"font":"Liberation Mono"},"encoding":{"x":{"datum":205,"type":"quantitative"},"y":{"datum":563,"type":"quantitative"}}},
{"mark":{"type":"text","text":"BIAS","color":"#a0a0a0","fontSize":10,"font":"Liberation Mono"},"encoding":{"x":{"datum":245,"type":"quantitative"},"y":{"datum":563,"type":"quantitative"}}},
{"mark":{"type":"text","text":"CCI","color":"#a0a0a0","fontSize":10,"font":"Liberation Mono"},"encoding":{"x":{"datum":282,"type":"quantitative"},"y":{"datum":563,"type":"quantitative"}}},
{"mark":{"type":"text","text":"KDJ","color":"#a0a0a0","fontSize":10,"font":"Liberation Mono"},"encoding":{"x":{"datum":317,"type":"quantitative"},"y":{"datum":563,"type":"quantitative"}}},
{"mark":{"type":"text","text":"LW&","color":"#a0a0a0","fontSize":10,"font":"Liberation Mono"},"encoding":{"x":{"datum":350,"type":"quantitative"},"y":{"datum":563,"type":"quantitative"}}},
{"mark":{"type":"text","text":"RSI","color":"#a0a0a0","fontSize":10,"font":"Liberation Mono"},"encoding":{"x":{"datum":389,"type":"quantitative"},"y":{"datum":563,"type":"quantitative"}}},
{"mark":{"type":"text","text":"CR","color":"#a0a0a0","fontSize":10,"font":"Liberation Mono"},"encoding":{"x":{"datum":421,"type":"quantitative"},"y":{"datum":563,"type":"quantitative"}}},
{"mark":{"type":"text","text":"PSY","color":"#a0a0a0","fontSize":10,"font":"Liberation Mono"},"encoding":{"x":{"datum":452,"type":"quantitative"},"y":{"datum":563,"type":"quantitative"}}},
{"mark":{"type":"text","text":"BOLL","color":"#a0a0a0","fontSize":10,"font":"Liberation Mono"},"encoding":{"x":{"datum":489,"type":"quantitative"},"y":{"datum":563,"type":"quantitative"}}},
{"mark":{"type":"text","text":"VOL","color":"#a0a0a0","fontSize":10,"font":"Liberation Mono"},"encoding":{"x":{"datum":527,"type":"quantitative"},"y":{"datum":563,"type":"quantitative"}}},
{"mark":{"type":"text","text":"OBV","color":"#a0a0a0","fontSize":10,"font":"Liberation Mono"},"encoding":{"x":{"datum":561,"type":"quantitative"},"y":{"datum":563,"type":"quantitative"}}},
{"mark":{"type":"text","text":"设置","color":"#a0a0a0","fontSize":12},"encoding":{"x":{"datum":598,"type":"quantitative"},"y":{"datum":563,"type":"quantitative"}}},
{"mark":{"type":"text","text":"1QH.CN","align":"left","color":"#b0b0b0","fontSize":28},"encoding":{"x":{"datum":1036,"type":"quantitative"},"y":{"datum":534,"type":"quantitative"}}},
{"mark":{"type":"rect","color":"#000000"},"encoding":{"x":{"datum":822,"type":"quantitative"},"x2":{"datum":931},"y":{"datum":535,"type":"quantitative"},"y2":{"datum":552}}},
{"mark":{"type":"text","text":"2025/03/28 星期五","color":"#e8842c"},"encoding":{"x":{"datum":876,"type":"quantitative"},"y":{"datum":544,"type":"quantitative"}}},
{"mark":{"type":"rect","color":"#000000","stroke":"#e8a050"},"encoding":{"x":{"datum":1089,"type":"quantitative"},"x2":{"datum":1157},"y":{"datum":59.5,"type":"quantitative"},"y2":{"datum":76.5}}},
{"mark":{"type":"text","text":"3616.55","align":"left","color":"#e8842c"},"encoding":{"x":{"datum":1093,"type":"quantitative"},"y":{"datum":68,"type":"quantitative"}}},
{"mark":{"type":"rect","color":"#000000"},"encoding":{"x":{"datum":1089,"type":"quantitative"},"x2":{"datum":1157},"y":{"datum":266,"type":"quantitative"},"y2":{"datum":282}}},
{"mark":{"type":"text","text":"2472.58","align":"left","color":"#e8842c"},"encoding":{"x":{"datum":1093,"type":"quantitative"},"y":{"datum":274,"type":"quantitative"}}},
{"mark":{"type":"text","text":"▲","color":"#e8a050","fontSize":9},"encoding":{"x":{"datum":1153,"type":"quantitative"},"y":{"datum":55,"type":"quantitative"}}},
{"mark":{"type":"rect","color":"#222222","stroke":"#999999"},"encoding":{"x":{"datum":1027,"type":"quantitative"},"x2":{"datum":1039},"y":{"datum":2,"type":"quantitative"},"y2":{"datum":14}}},
{"mark":{"type":"rect","color":"#222222","stroke":"#999999"},"encoding":{"x":{"datum":1043,"type":"quantitative"},"x2":{"datum":1055},"y":{"datum":2,"type":"quantitative"},"y2":{"datum":14}}},
{"mark":{"type":"rect","color":"#222222","stroke":"#999999"},"encoding":{"x":{"datum":1059,"type":"quantitative"},"x2":{"datum":1071},"y":{"datum":2,"type":"quantitative"},"y2":{"datum":14}}},
{"mark":{"type":"rect","color":"#222222","stroke":"#999999"},"encoding":{"x":{"datum":1074,"type":"quantitative"},"x2":{"datum":1086},"y":{"datum":2,"type":"quantitative"},"y2":{"datum":14}}},
{"mark":{"type":"text","text":"✛","color":"#bbbbbb","fontSize":10},"encoding":{"x":{"datum":1033,"type":"quantitative"},"y":{"datum":8,"type":"quantitative"}}},
{"mark":{"type":"text","text":"⊢","color":"#bbbbbb","fontSize":10},"encoding":{"x":{"datum":1049,"type":"quantitative"},"y":{"datum":8,"type":"quantitative"}}},
{"mark":{"type":"text","text":"⊢","color":"#bbbbbb","fontSize":10},"encoding":{"x":{"datum":1065,"type":"quantitative"},"y":{"datum":8,"type":"quantitative"}}},
{"mark":{"type":"text","text":"⊢","color":"#bbbbbb","fontSize":10},"encoding":{"x":{"datum":1080,"type":"quantitative"},"y":{"datum":8,"type":"quantitative"}}}
]}
]}
